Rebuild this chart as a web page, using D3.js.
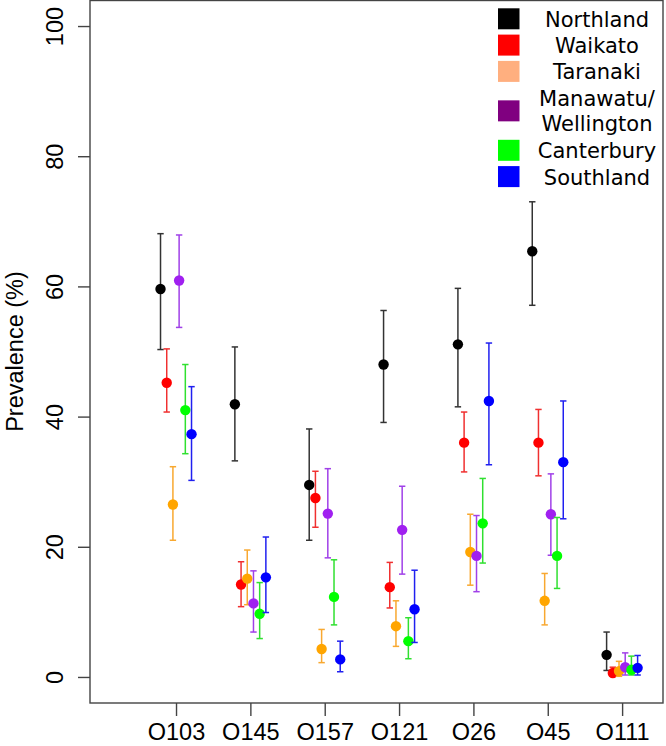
<!DOCTYPE html>
<html>
<head>
<meta charset="utf-8">
<script src="https://cdn.jsdelivr.net/npm/d3@7"></script>
<style>
  html, body { margin: 0; padding: 0; background: #fff; }
  svg { display: block; }
</style>
</head>
<body>
<svg id="chart" width="666" height="746"></svg>
<script>
// ---------------- DATA ----------------
const categories = ["O103", "O145", "O157", "O121", "O26", "O45", "O111"];
const regions = ["Northland", "Waikato", "Taranaki", "Manawatu/\nWellington", "Canterbury", "Southland"];
const yTicks = [0, 20, 40, 60, 80, 100];

const northland   = [59.6, 41.9, 29.5, 48.0, 51.1, 65.4, 3.4];
const northlandLo = [50.3, 33.2, 21.0, 39.1, 41.5, 57.1, 1.0];
const northlandHi = [68.1, 50.7, 38.1, 56.3, 59.7, 73.0, 6.9];

const waikato   = [45.2, 14.2, 27.5, 13.8, 36.0, 36.0, 0.6];
const waikatoLo = [40.7, 10.8, 23.0, 10.6, 31.5, 30.9, 0.1];
const waikatoHi = [50.4, 17.7, 31.6, 17.6, 40.7, 41.1, 1.5];

const taranaki   = [26.5, 15.1, 4.3, 7.8, 19.2, 11.7, 0.9];
const taranakiLo = [21.0, 11.1, 2.2, 4.7, 14.1, 8.0, 0.1];
const taranakiHi = [32.3, 19.5, 7.3, 11.7, 25.0, 15.9, 2.4];

const manawatu   = [60.9, 11.3, 25.1, 22.6, 18.6, 25.0, 1.5];
const manawatuLo = [53.7, 6.9, 18.3, 15.8, 13.1, 18.7, 0.3];
const manawatuHi = [67.9, 16.3, 32.0, 29.3, 24.8, 31.2, 3.7];

const canterbury   = [41.0, 9.7, 12.3, 5.5, 23.6, 18.6, 1.1];
const canterburyLo = [34.3, 5.9, 8.0, 2.8, 17.5, 13.6, 0.3];
const canterburyHi = [48.0, 14.5, 18.0, 9.1, 30.5, 24.5, 3.2];

const southland   = [37.3, 15.3, 2.7, 10.4, 42.4, 33.0, 1.4];
const southlandLo = [30.2, 9.9, 0.8, 5.3, 32.6, 24.3, 0.3];
const southlandHi = [44.6, 21.5, 5.5, 16.4, 51.3, 42.4, 3.3];

const pointColors  = ["#000000", "#FF0000", "#FFA500", "#A020F0", "#00FF00", "#0000FF"];
const barColors    = ["#333333", "#F03030", "#F8A830", "#A040E8", "#30E030", "#2020F0"];
const legendColors = ["#000000", "#FF0000", "#FFAF7F", "#800080", "#00FF00", "#0000FF"];

// ---------------- BUILD ----------------
const seriesVals = [northland, waikato, taranaki, manawatu, canterbury, southland];
const seriesLo = [northlandLo, waikatoLo, taranakiLo, manawatuLo, canterburyLo, southlandLo];
const seriesHi = [northlandHi, waikatoHi, taranakiHi, manawatuHi, canterburyHi, southlandHi];

const svg = d3.select("#chart");
const box = { left: 90, right: 663, top: 0, bottom: 703 };

const x = d3.scaleLinear().domain([-1.157, 6.55]).range([box.left, box.right]);
const y = d3.scaleLinear().domain([-4, 104]).range([box.bottom, box.top]);
const offset = d3.scaleLinear().domain([0, 5]).range([-0.2085, 0.2085]);

// plot box
svg.append("rect")
  .attr("x", box.left).attr("y", box.top + 0.5)
  .attr("width", box.right - box.left).attr("height", box.bottom - box.top - 0.5)
  .attr("fill", "none").attr("stroke", "#444").attr("stroke-width", 1.4);

// y axis
const yAxis = d3.axisLeft(y).tickValues(yTicks).tickSize(12).tickPadding(0).tickFormat(d3.format("d"));
const gy = svg.append("g").attr("transform", `translate(${box.left},0)`).call(yAxis);
gy.select(".domain").remove();
gy.selectAll(".tick line").attr("stroke", "#444").attr("stroke-width", 1.4);
gy.selectAll(".tick text")
  .attr("x", 0).attr("dy", null)
  .attr("transform", "translate(-27,0) rotate(-90)")
  .attr("text-anchor", "middle")
  .style("font-family", "'Liberation Sans', Arial, sans-serif")
  .style("font-size", "23.5px")
  .attr("fill", "#000");

// x axis
const xAxis = d3.axisBottom(x).tickValues(d3.range(categories.length)).tickSize(13).tickPadding(0)
  .tickFormat(i => categories[i]);
const gx = svg.append("g").attr("transform", `translate(0,${box.bottom})`).call(xAxis);
gx.select(".domain").remove();
gx.selectAll(".tick line").attr("stroke", "#444").attr("stroke-width", 1.4);
gx.selectAll(".tick text")
  .attr("y", 37).attr("dy", null)
  .style("font-family", "'Liberation Sans', Arial, sans-serif")
  .style("font-size", "23.5px")
  .attr("fill", "#000");

// y label
svg.append("text")
  .attr("transform", `translate(23,${(box.top + box.bottom) / 2}) rotate(-90)`)
  .attr("text-anchor", "middle")
  .style("font-family", "'Liberation Sans', Arial, sans-serif")
  .style("font-size", "23.5px")
  .text("Prevalence (%)");

// points with error bars
const capW = 3.2;
seriesVals.forEach((vals, s) => {
  const g = svg.append("g");
  vals.forEach((v, i) => {
    const cx = x(i + offset(s));
    const lo = seriesLo[s][i], hi = seriesHi[s][i];
    g.append("line").attr("x1", cx).attr("x2", cx).attr("y1", y(lo)).attr("y2", y(hi))
      .attr("stroke", barColors[s]).attr("stroke-width", 1.5);
    [lo, hi].forEach(e => {
      g.append("line").attr("x1", cx - capW).attr("x2", cx + capW).attr("y1", y(e)).attr("y2", y(e))
        .attr("stroke", barColors[s]).attr("stroke-width", 1.5);
    });
    g.append("circle").attr("cx", cx).attr("cy", y(v)).attr("r", 5.2).attr("fill", pointColors[s]);
  });
});

// legend
const legendRow = d3.scaleLinear().domain([0, 1]).range([18.8, 45.1]);
const rowPos = [0, 1, 2, 3.5, 5, 6];
const lg = svg.append("g");
regions.forEach((name, k) => {
  const cy = legendRow(rowPos[k]);
  lg.append("rect").attr("x", 498).attr("y", cy - 10.5).attr("width", 21.5).attr("height", 21)
    .attr("fill", legendColors[k]);
  const lines = name.split("\n");
  const t = lg.append("text")
    .attr("text-anchor", "middle")
    .style("font-family", "'DejaVu Sans', sans-serif")
    .style("font-size", "21px")
    .attr("fill", "#000");
  lines.forEach((ln, j) => {
    t.append("tspan").attr("x", 597)
      .attr("y", cy + 8 + (j - (lines.length - 1) / 2) * 25)
      .text(ln);
  });
});
</script>
</body>
</html>
